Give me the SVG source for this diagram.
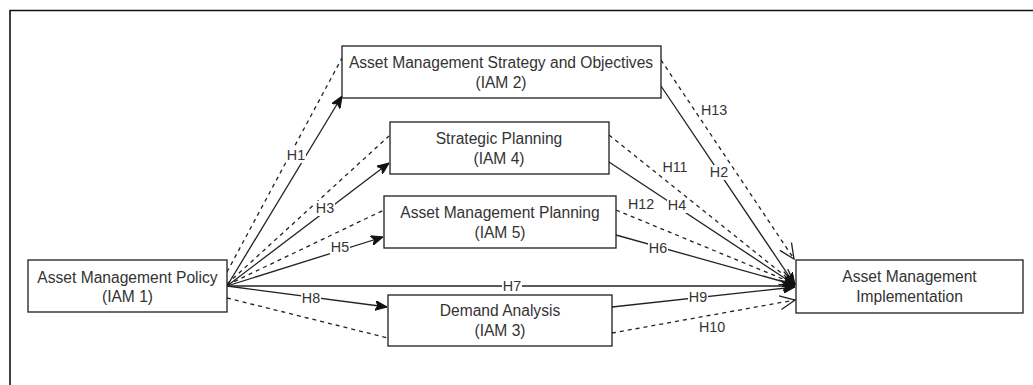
<svg xmlns="http://www.w3.org/2000/svg" width="1033" height="385" viewBox="0 0 1033 385">
<style>
.box{fill:#fff;stroke:#1e1e1e;stroke-width:1.3}
.nt{font-family:"Liberation Sans",Arial,sans-serif;font-size:15.6px;fill:#333;text-anchor:middle}
.e{fill:none;stroke:#222;stroke-width:1.3}
.d{fill:none;stroke:#222;stroke-width:1.3;stroke-dasharray:4 4}
.lb{fill:#fff}
.lt{font-family:"Liberation Sans",Arial,sans-serif;font-size:14.3px;fill:#333;text-anchor:middle}
</style>
<defs>
<marker id="fa" viewBox="0 0 12 10" refX="12" refY="5" markerWidth="12" markerHeight="10" markerUnits="userSpaceOnUse" orient="auto">
<path d="M0,0 L12,5 L0,10 L3,5 z" fill="#111" stroke="#111" stroke-width="1"/>
</marker>
<marker id="oa" viewBox="0 0 16 16" refX="15" refY="8" markerWidth="16" markerHeight="16" markerUnits="userSpaceOnUse" orient="auto" overflow="visible">
<path d="M0,1 L15,8 L0,15" fill="none" stroke="#222" stroke-width="1.3"/>
</marker>
</defs>
<rect width="1033" height="385" fill="#fff"/>
<path d="M10,385 L10,10.5 L1033,10.5" fill="none" stroke="#111" stroke-width="1.6"/>
<g id="connectors">
<path class="d" d="M227,272 L342,58 M661,60 L794,259" marker-end="url(#oa)"/>
<path class="d" d="M227,284 L389,136 M609,135 L795,284" marker-end="url(#oa)"/>
<path class="d" d="M227,285 L384,210 M616,210 L795,284" marker-end="url(#oa)"/>
<path class="d" d="M227,298 L388,338 M612,333 L795,300" marker-end="url(#oa)"/>
<path class="e" d="M227,286 L342,96" marker-end="url(#fa)"/>
<path class="e" d="M227,286 L389,163" marker-end="url(#fa)"/>
<path class="e" d="M227,286 L383,237" marker-end="url(#fa)"/>
<path class="e" d="M227,286 L387,307" marker-end="url(#fa)"/>
<path class="e" d="M227,286 L795,286" marker-end="url(#fa)"/>
<path class="e" d="M661,86 L795,285" marker-end="url(#fa)"/>
<path class="e" d="M609,162 L795,285" marker-end="url(#fa)"/>
<path class="e" d="M616,235 L795,285" marker-end="url(#fa)"/>
<path class="e" d="M612,307 L795,287" marker-end="url(#fa)"/>
<g id="labels">
<rect class="lb" x="286" y="148" width="20" height="15"/><text class="lt" x="296" y="160">H1</text>
<rect class="lb" x="315" y="201" width="20" height="15"/><text class="lt" x="325" y="213">H3</text>
<rect class="lb" x="330" y="240" width="20" height="15"/><text class="lt" x="340" y="252">H5</text>
<rect class="lb" x="502" y="279" width="20" height="15"/><text class="lt" x="512" y="291">H7</text>
<rect class="lb" x="301" y="291" width="20" height="15"/><text class="lt" x="311" y="303">H8</text>
<rect class="lb" x="709" y="165" width="20" height="15"/><text class="lt" x="719" y="177">H2</text>
<rect class="lb" x="667" y="198" width="20" height="15"/><text class="lt" x="677" y="210">H4</text>
<rect class="lb" x="648" y="241" width="20" height="15"/><text class="lt" x="658" y="253">H6</text>
<rect class="lb" x="688" y="290" width="20" height="15"/><text class="lt" x="698" y="302">H9</text>
<rect class="lb" x="700" y="103" width="28" height="15"/><text class="lt" x="714" y="115">H13</text>
<rect class="lb" x="661" y="160" width="28" height="15"/><text class="lt" x="675" y="172">H11</text>
<rect class="lb" x="627" y="197" width="28" height="15"/><text class="lt" x="641" y="209">H12</text>
<rect class="lb" x="698" y="320" width="28" height="15"/><text class="lt" x="712" y="332">H10</text>
</g>
</g>
<g id="iam2"><rect class="box" x="342" y="46" width="319" height="52"/><text class="nt" x="501" y="68">Asset Management Strategy and Objectives</text><text class="nt" x="501" y="88">(IAM 2)</text></g>
<g id="iam4"><rect class="box" x="390" y="122" width="219" height="52"/><text class="nt" x="499" y="144">Strategic Planning</text><text class="nt" x="499" y="164">(IAM 4)</text></g>
<g id="iam5"><rect class="box" x="384" y="196" width="232" height="52"/><text class="nt" x="500" y="218">Asset Management Planning</text><text class="nt" x="500" y="238">(IAM 5)</text></g>
<g id="iam3"><rect class="box" x="388" y="295" width="224" height="51"/><text class="nt" x="500" y="316">Demand Analysis</text><text class="nt" x="500" y="336">(IAM 3)</text></g>
<g id="iam1"><rect class="box" x="28" y="260" width="199" height="52"/><text class="nt" x="127.5" y="283">Asset Management Policy</text><text class="nt" x="127.5" y="302">(IAM 1)</text></g>
<g id="impl"><rect class="box" x="796" y="260" width="227" height="53"/><text class="nt" x="909.5" y="282">Asset Management</text><text class="nt" x="909.5" y="302">Implementation</text></g>
</svg>
